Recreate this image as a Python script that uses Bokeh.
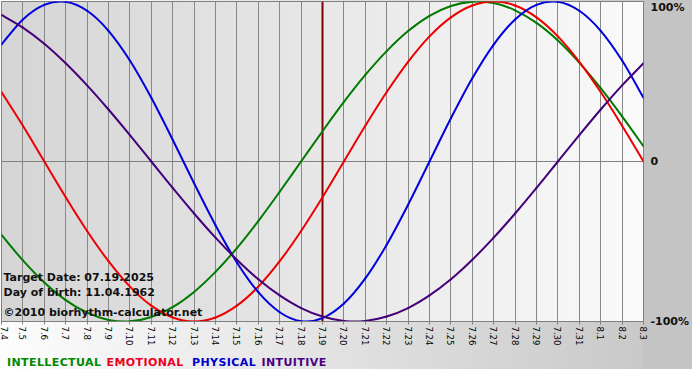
import math
from bokeh.plotting import figure
from bokeh.layouts import column
from bokeh.models import FixedTicker, Span, Label, InlineStyleSheet, Div
from bokeh.embed import file_html
from bokeh.resources import INLINE

# ---------------- data ----------------
tick_labels = ["7.4", "7.5", "7.6", "7.7", "7.8", "7.9", "7.10", "7.11", "7.12",
               "7.13", "7.14", "7.15", "7.16", "7.17", "7.18", "7.19", "7.20",
               "7.21", "7.22", "7.23", "7.24", "7.25", "7.26", "7.27", "7.28",
               "7.29", "7.30", "7.31", "8.1", "8.2", "8.3"]
days = list(range(len(tick_labels)))

intellectual = [-0.458, -0.618, -0.756, -0.866, -0.945, -0.990, -0.999, -0.972,
                -0.910, -0.815, -0.690, -0.541, -0.372, -0.189, 0.000, 0.189,
                0.372, 0.541, 0.690, 0.815, 0.910, 0.972, 0.999, 0.990, 0.945,
                0.866, 0.756, 0.618, 0.458, 0.282, 0.095]
emotional = [0.434, 0.223, 0.000, -0.223, -0.434, -0.623, -0.782, -0.901, -0.975,
             -1.000, -0.975, -0.901, -0.782, -0.623, -0.434, -0.223, 0.000, 0.223,
             0.434, 0.623, 0.782, 0.901, 0.975, 1.000, 0.975, 0.901, 0.782, 0.623,
             0.434, 0.223, 0.000]
physical = [0.731, 0.888, 0.979, 0.998, 0.942, 0.817, 0.631, 0.398, 0.136, -0.136,
            -0.398, -0.631, -0.817, -0.942, -0.998, -0.979, -0.888, -0.731, -0.520,
            -0.270, 0.000, 0.270, 0.520, 0.731, 0.888, 0.979, 0.998, 0.942, 0.817,
            0.631, 0.398]
intuitive = [0.916, 0.837, 0.736, 0.614, 0.476, 0.325, 0.165, 0.000, -0.165, -0.325,
             -0.476, -0.614, -0.736, -0.837, -0.916, -0.969, -0.997, -0.997, -0.969,
             -0.916, -0.837, -0.736, -0.614, -0.476, -0.325, -0.165, 0.000, 0.165,
             0.325, 0.476, 0.614]

target_tick = "7.19"
info_lines = ["Target Date: 07.19.2025", "Day of birth: 11.04.1962",
              "\u00a92010 biorhythm-calculator.net"]
series_names = ["INTELLECTUAL", "EMOTIONAL", "PHYSICAL", "INTUITIVE"]
y_ticks = [1, 0, -1]
y_tick_labels = ["100%", "0", "-100%"]

# ---------------- styles ----------------
line_colors = ["#007a00", "#ee0000", "#0000dd", "#45007a"]
text_colors = ["#008800", "#ee0022", "#0000cc", "#4b0082"]
legend_x = [7, 106.5, 192, 261.5]
FONT = "DejaVu Sans"
FW, FH = 642, 320
LEFT, TOP, RIGHT, BOTTOM = 1, 1, 49, 30
TOTAL_W = LEFT + FW + RIGHT
LEG_H = 21

css = InlineStyleSheet(css="""
:host {
  background:
    linear-gradient(to right, #d5d5d5, #fafafa) %dpx %dpx / %dpx %dpx no-repeat,
    linear-gradient(to right, #fdfdfd 0px, #c9c9c9 %dpx, #c4c4c4 %dpx, #c4c4c4 100%%);
}
""" % (LEFT, TOP, FW, FH, LEFT + FW, LEFT + FW))

fig = figure(frame_width=FW, frame_height=FH, x_range=(0, 30), y_range=(-1, 1),
             output_backend="svg", toolbar_location=None, y_axis_location="right",
             min_border_left=LEFT, min_border_top=TOP, min_border_right=RIGHT,
             min_border_bottom=BOTTOM)
fig.stylesheets = [css]
fig.background_fill_alpha = 0
fig.border_fill_alpha = 0
fig.outline_line_color = "#808080"
fig.outline_line_width = 1
fig.ygrid.visible = False

# x grid / axis
fig.xgrid.ticker = FixedTicker(ticks=days)
fig.xgrid.grid_line_color = "#888888"
fig.xgrid.grid_line_width = 1
ax = fig.xaxis[0]
ax.ticker = FixedTicker(ticks=days)
ax.major_label_overrides = {d: t for d, t in zip(days, tick_labels)}
ax.major_label_orientation = -math.pi / 2
ax.major_tick_in = 0
ax.major_tick_out = 3
ax.minor_tick_line_color = None
ax.axis_line_color = "#808080"
ax.major_tick_line_color = "#808080"
ax.major_label_text_font = FONT
ax.major_label_text_font_size = "8.5px"
ax.major_label_text_color = "#000000"
ax.major_label_standoff = 2

# right percentage axis
ay = fig.yaxis[0]
ay.ticker = FixedTicker(ticks=y_ticks)
ay.major_label_overrides = {t: l for t, l in zip(y_ticks, y_tick_labels)}
ay.axis_line_color = None
ay.major_tick_line_color = None
ay.minor_tick_line_color = None
ay.major_tick_in = 0
ay.major_tick_out = 0
ay.major_label_standoff = 7
ay.major_label_text_font = FONT
ay.major_label_text_font_style = "bold"
ay.major_label_text_font_size = "11px"
ay.major_label_text_color = "#111111"

# zero line and target-date marker
fig.add_layout(Span(location=0, dimension="width", line_color="#808080",
                    line_width=1, level="underlay"))
fig.add_layout(Span(location=tick_labels.index(target_tick), dimension="height",
                    line_color="#800000", line_width=2, level="underlay"))

# curves: smooth (Catmull-Rom) bezier segments through the daily values
def smooth_segments(xs, ys):
    n = len(xs)
    seg = dict(x0=[], y0=[], x1=[], y1=[], cx0=[], cy0=[], cx1=[], cy1=[])
    for i in range(n - 1):
        a = i - 1 if i > 0 else i
        b = i + 2 if i + 2 < n else i + 1
        seg["x0"].append(xs[i]); seg["y0"].append(ys[i])
        seg["x1"].append(xs[i + 1]); seg["y1"].append(ys[i + 1])
        seg["cx0"].append(xs[i] + (xs[i + 1] - xs[a]) / 6.0)
        seg["cy0"].append(ys[i] + (ys[i + 1] - ys[a]) / 6.0)
        seg["cx1"].append(xs[i + 1] - (xs[b] - xs[i]) / 6.0)
        seg["cy1"].append(ys[i + 1] - (ys[b] - ys[i]) / 6.0)
    return seg

for vals, col in zip([intellectual, emotional, physical, intuitive], line_colors):
    s = smooth_segments(days, vals)
    fig.bezier(x0=s["x0"], y0=s["y0"], x1=s["x1"], y1=s["y1"],
               cx0=s["cx0"], cy0=s["cy0"], cx1=s["cx1"], cy1=s["cy1"],
               line_color=col, line_width=2, line_cap="round")

# info texts
for txt, yoff in zip(info_lines, [44, 29.5, 9.5]):
    fig.add_layout(Label(x=0, y=-1, x_offset=2, y_offset=yoff, text=txt,
                         text_font=FONT, text_font_style="bold",
                         text_font_size="11px", text_color="#111111",
                         text_baseline="alphabetic", text_align="left"))

# legend row
spans = "".join(
    '<span style="position:absolute;left:%spx;top:5px;color:%s;white-space:nowrap">%s</span>'
    % (x, c, n) for n, c, x in zip(series_names, text_colors, legend_x))
legend_bg = ("linear-gradient(to bottom, rgba(255,255,255,0) 0px, "
             "rgba(255,255,255,0) 18px, #ffffff 18px, #ffffff 100%%), "
             "linear-gradient(to right, #fdfdfd 0px, #c9c9c9 %dpx, "
             "#c4c4c4 %dpx, #c4c4c4 100%%)" % (LEFT + FW, LEFT + FW))
legend = Div(
    text='<div style="position:relative;width:%dpx;height:%dpx;font-family:\'DejaVu Sans\';'
         'font-weight:bold;font-size:11px;line-height:13px;letter-spacing:0.4px;">%s</div>'
         % (TOTAL_W, LEG_H, spans),
    width=TOTAL_W, height=LEG_H, margin=(0, 0, 0, 0),
    styles={"background": legend_bg})

p = column(fig, legend, spacing=0)

open("out.html", "w").write(file_html(p, INLINE))
